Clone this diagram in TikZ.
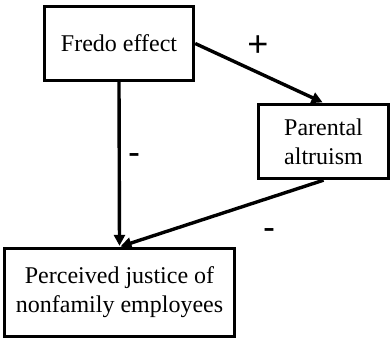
\documentclass[tikz,border=0pt]{standalone}
\usepackage{fontspec}
\setmainfont{Liberation Serif}
\newfontfamily\signfont{Liberation Sans}
\usetikzlibrary{arrows.meta}
\begin{document}
\begin{tikzpicture}[x=1pt,y=1pt,
  box/.style={draw, line width=3.4pt, rectangle, align=center, inner sep=0pt,
              font=\fontsize{24}{29}\selectfont},
  link/.style={line width=3.4pt, -{Triangle[length=11pt,width=11pt]}, shorten >=1pt},
  sign/.style={font=\signfont\fontsize{36}{40}\selectfont, inner sep=0pt}]
\useasboundingbox (0,0) rectangle (392,341);
% boxes
\node[box, minimum width=149pt, minimum height=74pt] (f) at (119,297.5) {Fredo effect};
\node[box, minimum width=130pt, minimum height=74pt] (p) at (323.5,199.5) {Parental\\altruism};
\node[box, minimum width=230pt, minimum height=88pt] (j) at (119.5,48.5) {Perceived justice of\\nonfamily employees};
% connectors
\draw[link] (f.east) -- (p.north);
\draw[link] (f.south) -- (j.north);
\draw[link] (p.south) -- (j.north);
% signs
\node[sign] (s1) at (258,295) {+};
\node[sign] (s2) at (134,182) {-};
\node[sign] (s3) at (269,107) {-};
\end{tikzpicture}
\end{document}
